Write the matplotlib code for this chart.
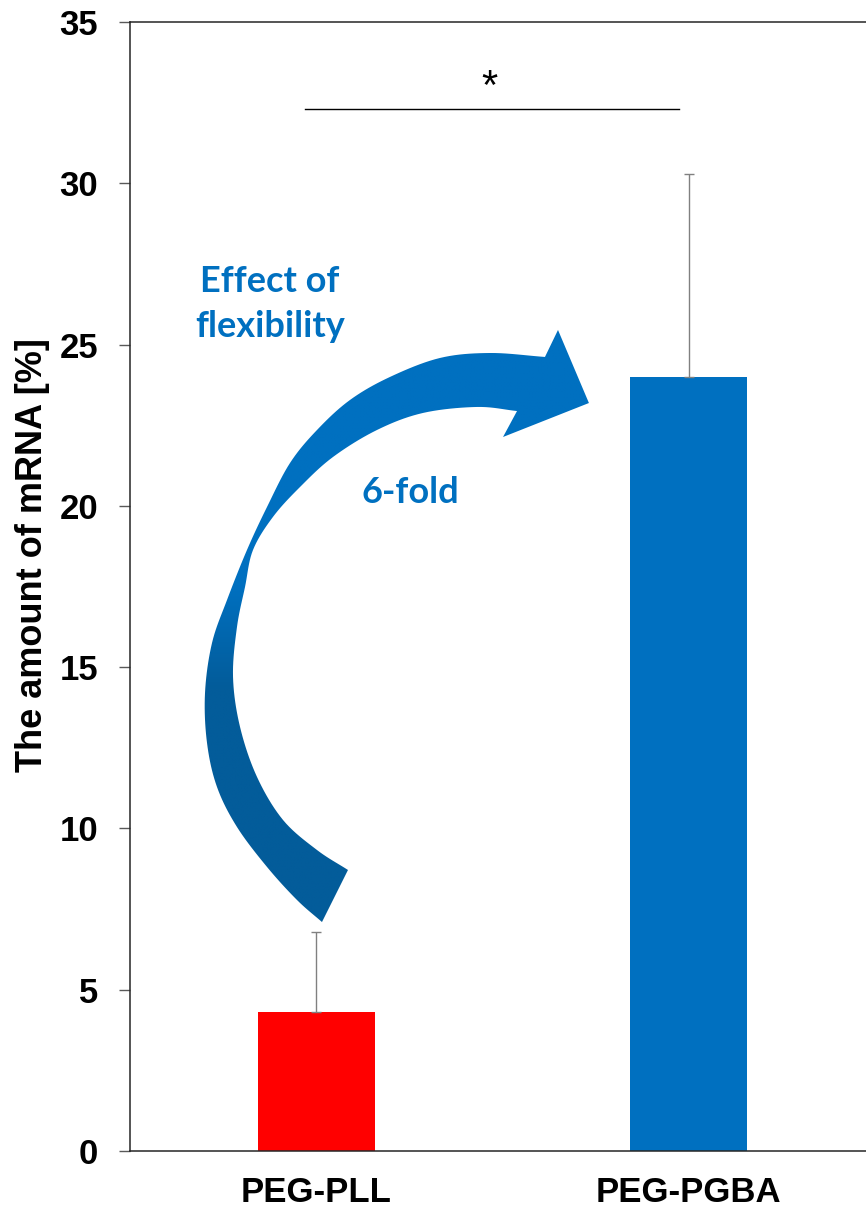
import numpy as np
import matplotlib
matplotlib.use("Agg")
import matplotlib.pyplot as plt
from matplotlib.patches import Polygon

# ---- data ----
categories = ["PEG-PLL", "PEG-PGBA"]
means = [4.3, 24.0]
errors = [2.5, 6.3]
bar_colors = ["#FF0000", "#0070C0"]
y_ticks = [0, 5, 10, 15, 20, 25, 30, 35]
y_label = "The amount of mRNA [%]"
sig_level = 32.3
sig_label = "*"
effect_label = "Effect of\nflexibility"
fold_label = "6-fold"

ARIAL = "Liberation Sans"
CALIBRI = "Lato"
ACCENT = "#0070C0"
ACCENT_DARK = "#035C9A"

fig = plt.figure(figsize=(8.66, 12.07), dpi=100)
ax = fig.add_axes([0.1501, 0.0464, 0.8603, 0.9354])

x = np.arange(len(categories))
ax.bar(x, means, width=0.314, color=bar_colors, zorder=2)
ax.errorbar(x, means, yerr=[np.zeros(len(errors)), errors], fmt="none",
            ecolor="#808080", elinewidth=1.0, capsize=3.8, capthick=1.0, zorder=3)

# significance bracket
ax.plot([x[0] - 0.03, x[1] - 0.025], [sig_level, sig_level], color="black", lw=1.0, zorder=3)
ax.text((x[0] + x[1]) / 2 - 0.034, sig_level + 0.31, sig_label, ha="center", va="baseline",
        fontsize=30, family=ARIAL)

# curved arrow outline (axes fraction): head, inner edge, tail, outer edge
head = [(0.616, 0.6625), (0.5007, 0.6324), (0.5195, 0.6554)]
inner_edge = [(0.5195, 0.6554), (0.4658, 0.6590), (0.3933, 0.6537), (0.3315, 0.6386),
              (0.2725, 0.6147), (0.2282, 0.5881), (0.1919, 0.5616), (0.1651, 0.5323),
              (0.1544, 0.4996), (0.1436, 0.4641), (0.1383, 0.4198), (0.1477, 0.3756),
              (0.1705, 0.3313), (0.2054, 0.2932), (0.2510, 0.2666), (0.2926, 0.2489)]
outer_edge = [(0.2577, 0.2028), (0.2242, 0.2223), (0.1839, 0.2516), (0.1436, 0.2870),
              (0.1168, 0.3224), (0.1034, 0.3614), (0.1007, 0.4057), (0.1101, 0.4500),
              (0.1302, 0.4880), (0.1570, 0.5323), (0.1839, 0.5704), (0.2148, 0.6094),
              (0.2510, 0.6386), (0.2953, 0.6652), (0.3490, 0.6856), (0.4161, 0.7024),
              (0.4832, 0.7068), (0.5570, 0.7033)]
head_top = (0.5745, 0.7272)


def catmull_rom(points, n=10):
    p = np.asarray(points, dtype=float)
    p = np.vstack([2 * p[0] - p[1], p, 2 * p[-1] - p[-2]])
    out = []
    for i in range(1, len(p) - 2):
        p0, p1, p2, p3 = p[i - 1], p[i], p[i + 1], p[i + 2]
        for t in np.linspace(0, 1, n, endpoint=False):
            t2, t3 = t * t, t * t * t
            out.append(0.5 * ((2 * p1) + (-p0 + p2) * t + (2 * p0 - 5 * p1 + 4 * p2 - p3) * t2
                              + (-p0 + 3 * p1 - 3 * p2 + p3) * t3))
    out.append(p[-2])
    return np.array(out)


outline = np.vstack([np.array(head[:2]), catmull_rom(inner_edge),
                     catmull_rom(outer_edge), np.array([head_top])])
arrow = Polygon(outline, closed=True, transform=ax.transAxes, facecolor="none",
                edgecolor="none")
ax.add_patch(arrow)

# vertical shading of the arrow body
fy = np.linspace(0, 1, 400)[:, None]
t = np.clip((0.50 - fy) / 0.09, 0, 1)
c_light = np.array(matplotlib.colors.to_rgb(ACCENT))
c_dark = np.array(matplotlib.colors.to_rgb(ACCENT_DARK))
grad = c_light[None, None, :] * (1 - t[..., None]) + c_dark[None, None, :] * t[..., None]
grad = np.repeat(grad, 4, axis=1)
img = ax.imshow(grad, extent=[0, 1, 0, 1], transform=ax.transAxes, origin="lower",
                aspect="auto", zorder=2, interpolation="bilinear")
img.set_clip_path(arrow)

ax.text(0.188, 0.750, effect_label, transform=ax.transAxes, ha="center", va="center",
        fontsize=26, fontweight="bold", family=CALIBRI, color=ACCENT, linespacing=1.45)
ax.text(0.376, 0.583, fold_label, transform=ax.transAxes, ha="center", va="center",
        fontsize=26, fontweight="bold", family=CALIBRI, color=ACCENT)

# axes styling
ax.set_xlim(-0.5, 1.5)
ax.set_ylim(0, 35)
ax.set_yticks(y_ticks)
ax.set_yticklabels([str(v) for v in y_ticks], fontsize=25, fontweight="bold", family=ARIAL)
ax.set_xticks(x)
ax.set_xticklabels(categories, fontsize=25, fontweight="bold", family=ARIAL)
ax.tick_params(axis="y", direction="out", length=8, width=1.0, color="#595959", pad=15)
ax.tick_params(axis="x", length=0, pad=18)
ax.set_ylabel(y_label, fontsize=26, fontweight="bold", family=ARIAL)
ax.yaxis.set_label_coords(-0.107, 0.528)
for side in ["left", "top", "right", "bottom"]:
    ax.spines[side].set_linewidth(1.1)
    ax.spines[side].set_color("#262626")

fig.savefig("out.png", dpi=100)
